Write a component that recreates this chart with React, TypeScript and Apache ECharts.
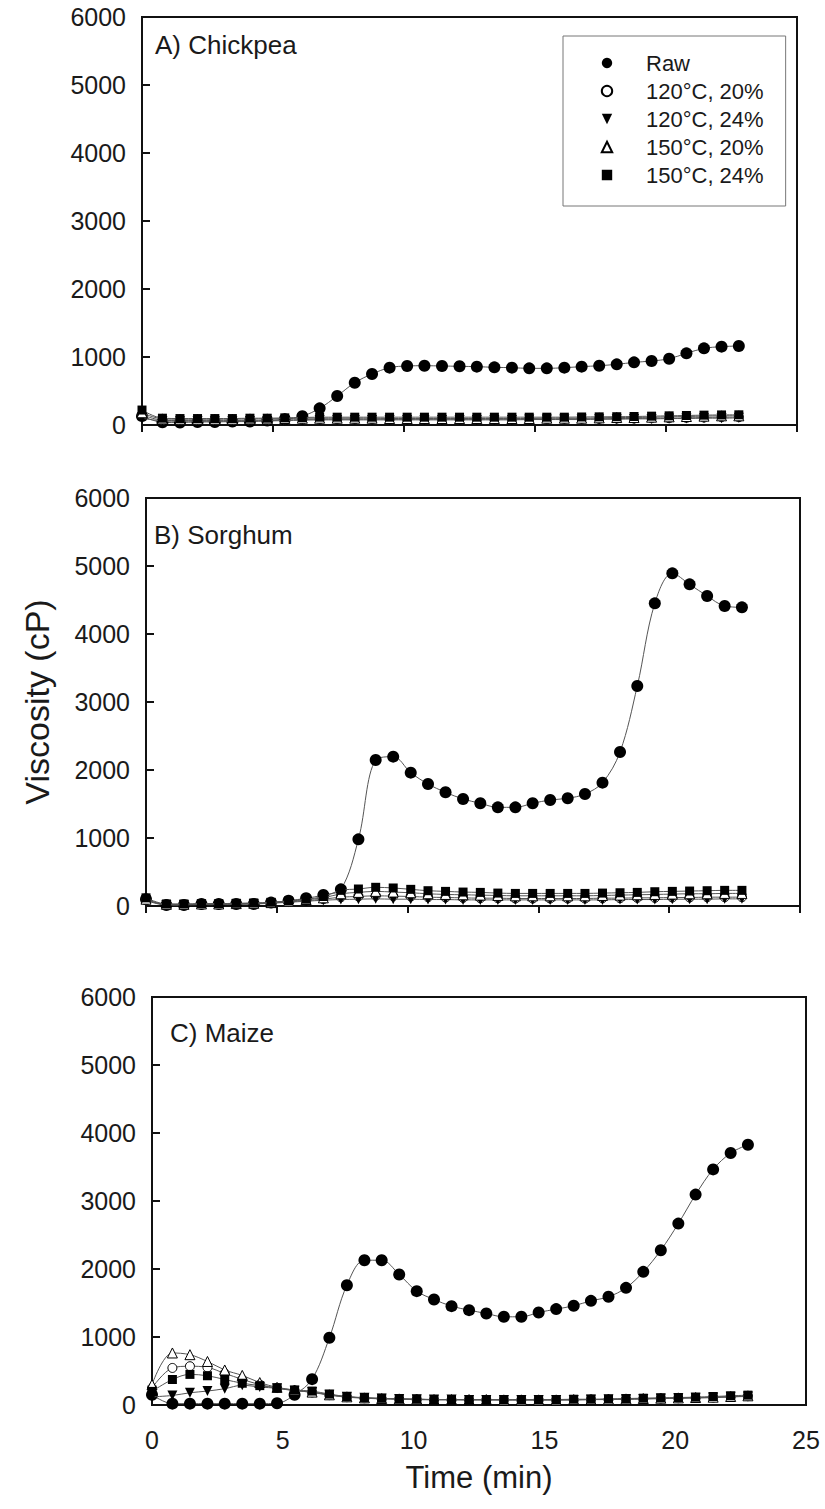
import React, { useEffect, useRef } from "react";
import * as echarts from "echarts";

// Time (min)
const time = [0, 0.78, 1.45, 2.12, 2.78, 3.45, 4.12, 4.78, 5.45, 6.12, 6.78, 7.45, 8.12, 8.78, 9.45, 10.12, 10.78, 11.45, 12.12, 12.78, 13.45, 14.12, 14.78, 15.45, 16.12, 16.78, 17.45, 18.12, 18.78, 19.45, 20.12, 20.78, 21.45, 22.12, 22.78];

const seriesNames = ["Raw", "120°C, 20%", "120°C, 24%", "150°C, 20%", "150°C, 24%"];
const panelLabels = ["A) Chickpea", "B) Sorghum", "C) Maize"];
const xTicks = [0, 5, 10, 15, 20, 25];
const yTicks = [0, 1000, 2000, 3000, 4000, 5000, 6000];

// A) Chickpea
const chickRaw = [130, 40, 35, 45, 45, 50, 50, 65, 85, 130, 245, 426, 622, 750, 843, 868, 872, 868, 863, 858, 848, 843, 833, 833, 843, 858, 872, 892, 921, 941, 975, 1054, 1127, 1152, 1162];
const chick120_20 = [150, 70, 65, 65, 65, 65, 70, 70, 75, 80, 85, 85, 85, 85, 85, 85, 85, 85, 85, 85, 85, 85, 85, 85, 90, 90, 90, 95, 95, 100, 100, 105, 110, 115, 115];
const chick120_24 = [100, 60, 55, 55, 55, 55, 60, 60, 65, 70, 75, 75, 75, 75, 75, 75, 75, 75, 75, 75, 75, 75, 80, 80, 80, 80, 85, 85, 90, 90, 95, 95, 100, 100, 105];
const chick150_20 = [180, 90, 85, 85, 85, 85, 90, 90, 95, 100, 100, 100, 100, 100, 95, 95, 95, 95, 95, 95, 95, 95, 95, 100, 100, 100, 105, 110, 110, 115, 120, 125, 130, 135, 135];
const chick150_24 = [220, 100, 95, 95, 95, 95, 100, 100, 105, 110, 115, 115, 115, 115, 115, 115, 115, 115, 115, 115, 115, 115, 115, 115, 115, 118, 120, 122, 125, 130, 135, 140, 145, 148, 150];

// B) Sorghum
const sorgRaw = [100, 15, 15, 30, 30, 30, 30, 50, 78, 113, 162, 245, 980, 2147, 2196, 1961, 1794, 1672, 1574, 1510, 1451, 1451, 1510, 1559, 1584, 1647, 1814, 2265, 3235, 4451, 4892, 4730, 4559, 4412, 4392];
const sorg120_20 = [90, 20, 20, 25, 25, 30, 35, 45, 60, 80, 100, 130, 140, 150, 145, 140, 130, 125, 120, 115, 115, 110, 110, 110, 110, 110, 115, 115, 120, 120, 125, 125, 130, 130, 130];
const sorg120_24 = [80, 15, 15, 20, 20, 25, 30, 40, 55, 70, 85, 95, 100, 105, 100, 100, 95, 95, 90, 90, 90, 90, 90, 90, 90, 90, 90, 95, 95, 95, 100, 100, 100, 105, 105];
const sorg150_20 = [100, 25, 25, 30, 30, 35, 40, 50, 70, 95, 120, 180, 200, 215, 205, 195, 180, 170, 165, 160, 155, 150, 150, 150, 150, 150, 155, 160, 165, 170, 175, 180, 180, 185, 185];
const sorg150_24 = [120, 30, 30, 35, 35, 40, 45, 55, 75, 100, 140, 230, 250, 275, 265, 245, 225, 215, 205, 200, 190, 185, 185, 185, 185, 185, 190, 195, 200, 210, 215, 220, 225, 230, 230];

// C) Maize
const maizeRaw = [150, 20, 20, 20, 20, 20, 20, 25, 150, 380, 988, 1762, 2129, 2129, 1919, 1674, 1552, 1454, 1395, 1346, 1297, 1297, 1361, 1410, 1459, 1532, 1591, 1723, 1958, 2276, 2668, 3094, 3465, 3705, 3828];
const maize120_20 = [250, 545, 570, 553, 465, 377, 300, 250, 215, 185, 145, 115, 100, 90, 85, 80, 75, 75, 75, 75, 75, 75, 75, 75, 75, 80, 80, 85, 90, 95, 100, 105, 110, 120, 130];
const maize120_24 = [120, 140, 180, 205, 240, 290, 265, 245, 210, 190, 150, 120, 105, 95, 90, 85, 80, 80, 75, 75, 75, 75, 75, 75, 75, 80, 80, 85, 90, 95, 100, 105, 110, 120, 125];
const maize150_20 = [300, 765, 740, 640, 515, 435, 330, 260, 220, 190, 150, 120, 105, 95, 90, 85, 80, 80, 80, 80, 75, 75, 75, 75, 80, 80, 85, 90, 95, 100, 105, 110, 115, 125, 135];
const maize150_24 = [200, 375, 450, 430, 375, 320, 285, 250, 220, 205, 160, 125, 108, 98, 90, 85, 80, 80, 80, 80, 80, 80, 80, 80, 85, 85, 90, 95, 100, 105, 110, 115, 125, 135, 145];

const panelData = [
  [chickRaw, chick120_20, chick120_24, chick150_20, chick150_24],
  [sorgRaw, sorg120_20, sorg120_24, sorg150_20, sorg150_24],
  [maizeRaw, maize120_20, maize120_24, maize150_20, maize150_24],
];

const FONT = "'Liberation Sans', Arial, sans-serif";
const TXT = "#1a1a1a";

const grids = [
  { left: 142, top: 17, width: 655, height: 408 },
  { left: 146, top: 498, width: 654, height: 408 },
  { left: 152, top: 997, width: 654, height: 408 },
];
const labelPos = [
  [155, 45],
  [154, 535],
  [170, 1033],
];

const symbolDefs = [
  { symbol: "circle", size: 12, open: false },
  { symbol: "circle", size: 9, open: true },
  { symbol: "path://M0,0 L10,0 L5,9 Z", size: 10, open: false },
  { symbol: "triangle", size: 10, open: true },
  { symbol: "rect", size: 9, open: false },
];

export default function App() {
  const ref = useRef<HTMLDivElement>(null);
  useEffect(() => {
    document.body.style.margin = "0";
    if (!ref.current) return;
    const chart = echarts.init(ref.current, undefined, { renderer: "svg" });

    const series: any[] = [];
    panelData.forEach((vals, p) => {
      vals.forEach((v, s) => {
        const def = symbolDefs[s];
        series.push({
          type: "line",
          name: seriesNames[s],
          xAxisIndex: p,
          yAxisIndex: p,
          data: time.map((t, i) => [t, v[i]]),
          smooth: 0.35,
          symbol: def.symbol,
          symbolSize: def.size,
          showAllSymbol: true,
          itemStyle: def.open
            ? { color: "#ffffff", borderColor: "#000000", borderWidth: 1 }
            : { color: "#000000" },
          lineStyle: { color: "#555555", width: 1 },
          emphasis: { disabled: true },
          z: 2 + s,
        });
      });
    });

    const option: any = {
      animation: false,
      textStyle: { fontFamily: FONT, color: TXT },
      grid: grids.map((g) => ({
        ...g,
        show: true,
        borderColor: "#111",
        borderWidth: 2,
        backgroundColor: "transparent",
      })),
      xAxis: grids.map((g, p) => ({
        type: "value",
        gridIndex: p,
        min: xTicks[0],
        max: xTicks[xTicks.length - 1],
        interval: 5,
        axisLine: { show: true, onZero: false, lineStyle: { color: "#111", width: 2 } },
        axisTick: { show: p < 2, inside: false, length: 7, lineStyle: { color: "#111", width: 2 } },
        axisLabel: {
          show: p === 2,
          fontSize: 25,
          margin: 22,
          color: TXT,
          fontFamily: FONT,
          formatter: (v: number) => String(v),
        },
        splitLine: { show: false },
        name: p === 2 ? "Time (min)" : "",
        nameLocation: "middle",
        nameGap: 57,
        nameTextStyle: { fontSize: 31, color: TXT, fontFamily: FONT },
      })),
      yAxis: grids.map((g, p) => ({
        type: "value",
        gridIndex: p,
        min: yTicks[0],
        max: yTicks[yTicks.length - 1],
        interval: 1000,
        axisLine: { show: true, onZero: false, lineStyle: { color: "#111", width: 2 } },
        axisTick: { show: true, inside: true, length: 8, lineStyle: { color: "#111", width: 2 } },
        axisLabel: {
          fontSize: 25,
          margin: 16,
          color: TXT,
          fontFamily: FONT,
          formatter: (v: number) => String(v),
        },
        splitLine: { show: false },
        name: p === 1 ? "Viscosity (cP)" : "",
        nameLocation: "middle",
        nameRotate: 90,
        nameGap: 92,
        nameTextStyle: { fontSize: 34, color: TXT, fontFamily: FONT },
      })),
      legend: {
        show: true,
        data: seriesNames,
        orient: "vertical",
        left: 563,
        top: 36,
        padding: [16, 22, 20, 10],
        itemWidth: 68,
        itemHeight: 13,
        itemGap: 6,
        selectedMode: false,
        borderColor: "#777",
        borderWidth: 1,
        lineStyle: { width: 0, opacity: 0 },
        textStyle: { fontSize: 22, lineHeight: 22, color: TXT, fontFamily: FONT },
      },
      graphic: panelLabels.map((txt, p) => ({
        type: "text",
        x: labelPos[p][0],
        y: labelPos[p][1],
        style: {
          text: txt,
          fontSize: 26,
          fontFamily: FONT,
          fill: TXT,
          verticalAlign: "middle",
        },
      })),
      series,
    };
    chart.setOption(option);
    return () => chart.dispose();
  }, []);
  return <div ref={ref} style={{ width: 825, height: 1509 }} />;
}
